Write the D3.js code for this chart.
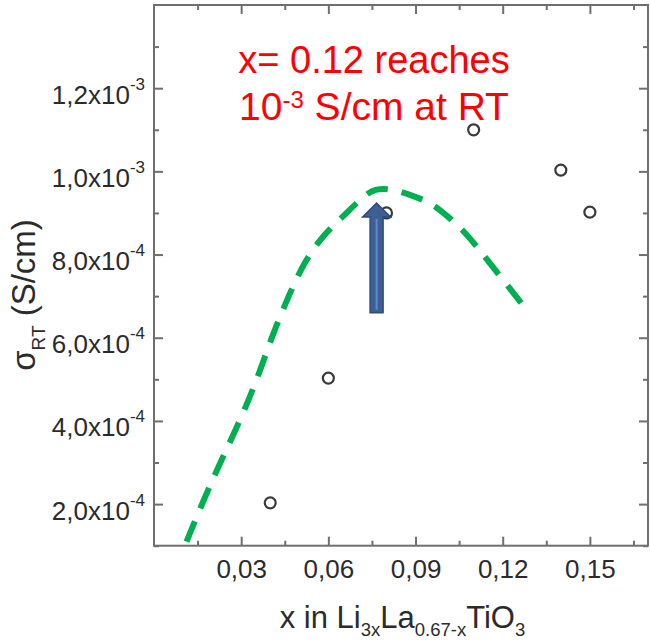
<!DOCTYPE html>
<html>
<head>
<meta charset="utf-8">
<script src="https://cdn.jsdelivr.net/npm/d3@7/dist/d3.min.js"></script>
<style>
  html, body { margin: 0; padding: 0; background: #fff; }
  svg { display: block; font-family: "Liberation Sans", Arial, sans-serif; }
</style>
</head>
<body>
<svg id="chart" width="650" height="641"></svg>
<script>
// ---- data ----
const sampleX = [0.04, 0.06, 0.08, 0.11, 0.14, 0.15];
const sampleY = [2.03e-4, 5.03e-4, 9.0e-4, 1.10e-3, 1.003e-3, 9.02e-4];

const trendX = [0.0112, 0.0181, 0.0237, 0.0302, 0.0358, 0.0405, 0.0462, 0.0520, 0.0589, 0.0650, 0.0719, 0.0760, 0.0819, 0.0891, 0.0956, 0.1012, 0.1063, 0.1115, 0.1201, 0.1287];
const trendY = [1.10e-4, 2.27e-4, 3.13e-4, 4.10e-4, 5.06e-4, 6.02e-4, 6.99e-4, 7.87e-4, 8.52e-4, 8.91e-4, 9.39e-4, 9.59e-4, 9.58e-4, 9.41e-4, 9.24e-4, 8.91e-4, 8.59e-4, 8.16e-4, 7.39e-4, 6.63e-4];

const arrowX = 0.0766;
const arrowFromY = 6.6e-4;
const arrowToY = 9.24e-4;

const xDomain = [0, 0.17];
const yDomain = [1e-4, 1.4e-3];

const xMajorTicks = [0.03, 0.06, 0.09, 0.12, 0.15];
const xMajorLabels = ["0,03", "0,06", "0,09", "0,12", "0,15"];
const xMinorTicks = [0.015, 0.045, 0.075, 0.105, 0.135, 0.165];

const yMajorTicks = [2e-4, 4e-4, 6e-4, 8e-4, 1.0e-3, 1.2e-3];
const yMantissa = ["2,0", "4,0", "6,0", "8,0", "1,0", "1,2"];
const yExponent = ["-4", "-4", "-4", "-4", "-3", "-3"];
const yMinorTicks = [1e-4, 3e-4, 5e-4, 7e-4, 9e-4, 1.1e-3, 1.3e-3];

const titleLine1 = "x= 0.12 reaches";
const titleLine2 = ["10", "-3", " S/cm at RT"];

// ---- layout ----
const L = 154, R = 648, T = 5, B = 545.7;
const svg = d3.select("#chart");
const x = d3.scaleLinear().domain(xDomain).range([L, R]);
const y = d3.scaleLinear().domain(yDomain).range([B, T]);

const axisColor = "#6f6f6f";
const labelColor = "#2b2b2b";

function styleAxis(g) {
  g.select(".domain").remove();
  g.selectAll(".tick line").attr("stroke", axisColor).attr("stroke-width", 2);
}

// inward ticks on all four sides
const majorLen = 9, minorLen = 5;
svg.append("g").attr("transform", `translate(0,${B})`)
  .call(d3.axisBottom(x).tickValues(xMinorTicks).tickSize(-minorLen).tickFormat("")).call(styleAxis);
svg.append("g").attr("transform", `translate(0,${B})`)
  .call(d3.axisBottom(x).tickValues(xMajorTicks).tickSize(-majorLen).tickPadding(14)
    .tickFormat((d, i) => xMajorLabels[i]))
  .call(styleAxis)
  .call(g => g.selectAll("text").attr("fill", labelColor).attr("font-size", 26)
    .attr("font-family", "Liberation Sans, Arial, sans-serif"));
svg.append("g").attr("transform", `translate(0,${T})`)
  .call(d3.axisTop(x).tickValues(xMinorTicks).tickSize(-minorLen).tickFormat("")).call(styleAxis);
svg.append("g").attr("transform", `translate(0,${T})`)
  .call(d3.axisTop(x).tickValues(xMajorTicks).tickSize(-majorLen).tickFormat("")).call(styleAxis);

svg.append("g").attr("transform", `translate(${L},0)`)
  .call(d3.axisLeft(y).tickValues(yMinorTicks).tickSize(-minorLen).tickFormat("")).call(styleAxis);
const yAx = svg.append("g").attr("transform", `translate(${L},0)`)
  .call(d3.axisLeft(y).tickValues(yMajorTicks).tickSize(-majorLen).tickFormat(""))
  .call(styleAxis);
svg.append("g").attr("transform", `translate(${R},0)`)
  .call(d3.axisRight(y).tickValues(yMinorTicks).tickSize(-minorLen).tickFormat("")).call(styleAxis);
svg.append("g").attr("transform", `translate(${R},0)`)
  .call(d3.axisRight(y).tickValues(yMajorTicks).tickSize(-majorLen).tickFormat("")).call(styleAxis);

// y tick labels with superscripts
yAx.selectAll(".tick").each(function(d, i) {
  const t = d3.select(this).append("text")
    .attr("x", -9).attr("y", 15)
    .attr("text-anchor", "end")
    .attr("fill", labelColor)
    .attr("font-size", 26);
  t.append("tspan").text(yMantissa[i] + "x10");
  t.append("tspan").attr("dy", -14).attr("font-size", 17).text(yExponent[i]);
});

// frame
svg.append("rect").attr("x", L).attr("y", T).attr("width", R - L).attr("height", B - T)
  .attr("fill", "none").attr("stroke", axisColor).attr("stroke-width", 2);

// trend line (dashed green)
const line = d3.line().x(d => x(d[0])).y(d => y(d[1])).curve(d3.curveBasis);
svg.append("path")
  .datum(trendX.map((v, i) => [v, trendY[i]]))
  .attr("d", line)
  .attr("fill", "none")
  .attr("stroke", "#00b050")
  .attr("stroke-width", 6)
  .attr("stroke-dasharray", "22,14");

// data points
svg.append("g").selectAll("circle")
  .data(sampleX.map((v, i) => [v, sampleY[i]]))
  .join("circle")
  .attr("cx", d => x(d[0])).attr("cy", d => y(d[1]))
  .attr("r", 5.5)
  .attr("fill", "none")
  .attr("stroke", "#3a3a3a")
  .attr("stroke-width", 2.2);

// arrow
const ax = x(arrowX), ay0 = y(arrowFromY), ay1 = y(arrowToY);
const sw = 6.5, hw = 14, hh = 14;
const arrowPts = [
  [ax - sw, ay0], [ax - sw, ay1 + hh], [ax - hw, ay1 + hh], [ax, ay1],
  [ax + hw, ay1 + hh], [ax + sw, ay1 + hh], [ax + sw, ay0]
];
svg.append("path")
  .attr("d", "M" + arrowPts.map(p => p.join(",")).join("L") + "Z")
  .attr("fill", "#3d5f93")
  .attr("stroke", "#2f4c7a")
  .attr("stroke-width", 1.5);
svg.append("line")
  .attr("x1", ax).attr("x2", ax).attr("y1", ay0 - 3).attr("y2", ay1 + hh + 2)
  .attr("stroke", "#5d8acb").attr("stroke-width", 2);

// title annotation
svg.append("text").attr("x", 374).attr("y", 72.5).attr("text-anchor", "middle")
  .attr("fill", "#ff0000").attr("font-size", 38).text(titleLine1);
const t2 = svg.append("text").attr("x", 374).attr("y", 119.5).attr("text-anchor", "middle")
  .attr("fill", "#ff0000").attr("font-size", 39);
t2.append("tspan").text(titleLine2[0]);
t2.append("tspan").attr("dy", -12).attr("font-size", 24).text(titleLine2[1]);
t2.append("tspan").attr("dy", 12).text(titleLine2[2]);

// x axis label
const xl = svg.append("text").attr("x", 402.5).attr("y", 627.5).attr("text-anchor", "middle")
  .attr("fill", labelColor).attr("font-size", 31);
xl.append("tspan").text("x in Li");
xl.append("tspan").attr("dy", 8).attr("font-size", 18.5).text("3x");
xl.append("tspan").attr("dy", -8).text("La");
xl.append("tspan").attr("dy", 8).attr("font-size", 18.5).text("0.67-x");
xl.append("tspan").attr("dy", -8).text("TiO");
xl.append("tspan").attr("dy", 8).attr("font-size", 18.5).text("3");

// y axis label
const yl = svg.append("text").attr("transform", "translate(35,295) rotate(-90)")
  .attr("text-anchor", "middle").attr("fill", labelColor).attr("font-size", 33);
yl.append("tspan").text("σ");
yl.append("tspan").attr("dy", 10).attr("font-size", 19).text("RT");
yl.append("tspan").attr("dy", -10).text(" (S/cm)");
</script>
</body>
</html>
